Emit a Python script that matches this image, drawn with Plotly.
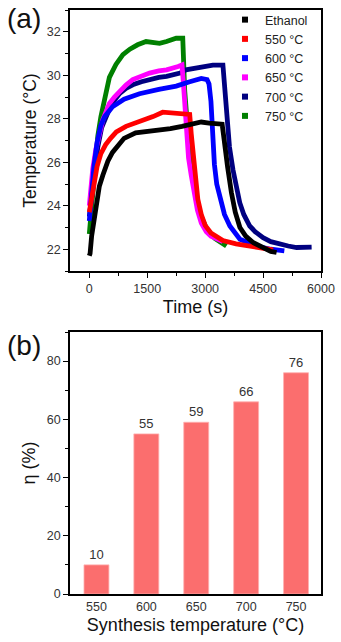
import plotly.graph_objects as go

# ---------------- data: panel (a) ----------------
t_eth = [0, 20, 60, 150, 260, 350, 480, 600, 750, 900, 1200, 1500, 1800, 2100, 2400, 2700, 2900, 3100, 3300, 3440,
         3480, 3530, 3580, 3680, 3780, 3900, 4050, 4250, 4500, 4700, 4850]
T_eth = [21.7, 21.8, 22.6, 23.8, 24.9, 25.4, 26.05, 26.45, 26.8, 27.1, 27.35, 27.4, 27.5, 27.55, 27.65, 27.75, 27.85, 27.8, 27.78, 27.75,
         27.2, 26.4, 25.8, 24.6, 23.7, 23.0, 22.6, 22.3, 22.05, 21.9, 21.85]

t_550 = [0, 50, 120, 200, 300, 420, 550, 700, 950, 1200, 1400, 1650, 1900, 2150, 2400, 2600,
         2640, 2690, 2750, 2810, 2900, 3000, 3150, 3300, 3460, 3800, 4100, 4450, 4760]
T_550 = [23.7, 24.3, 25.1, 25.8, 26.4, 26.8, 27.1, 27.4, 27.65, 27.8, 27.95, 28.1, 28.3, 28.25, 28.25, 28.2,
         27.3, 26.3, 25.2, 24.3, 23.6, 23.1, 22.75, 22.55, 22.4, 22.25, 22.15, 22.05, 21.97]

t_600 = [0, 60, 120, 200, 300, 400, 600, 900, 1300, 1800, 2250, 2600, 2900, 3050,
         3100, 3150, 3190, 3240, 3300, 3380, 3500, 3640, 3900, 4330, 4700, 5050]
T_600 = [23.3, 24.6, 25.8, 26.9, 27.7, 28.1, 28.55, 28.9, 29.15, 29.35, 29.5, 29.7, 29.85, 29.8,
         29.6, 28.8, 27.5, 25.9, 25.0, 24.4, 23.6, 23.07, 22.46, 22.15, 22.0, 21.92]

t_650 = [0, 40, 90, 170, 260, 350, 450, 520, 650, 780, 950, 1125, 1350, 1560, 1800, 2000, 2300, 2400,
         2430, 2470, 2520, 2570, 2640, 2720, 2800, 2900, 3030, 3150, 3300, 3460]
T_650 = [24.0, 24.9, 25.7, 26.6, 27.4, 27.95, 28.4, 28.7, 29.0, 29.25, 29.55, 29.8, 29.95, 30.1, 30.2, 30.25, 30.4, 30.47,
         29.8, 28.6, 27.2, 26.2, 25.4, 24.5, 23.8, 23.2, 22.8, 22.6, 22.45, 22.35]

t_700 = [0, 60, 130, 220, 320, 420, 520, 650, 780, 950, 1125, 1350, 1560, 1800, 2000, 2200, 2350, 2500, 2700, 2850,
         3000, 3200, 3460, 3500, 3560, 3630, 3720, 3800, 3896, 4000, 4155, 4300, 4500, 4700, 4934, 5150, 5368, 5550, 5757]
T_700 = [23.5, 24.5, 25.6, 26.7, 27.6, 28.1, 28.45, 28.85, 29.15, 29.4, 29.56, 29.7, 29.8, 29.9, 29.95, 30.05, 30.1, 30.25, 30.3, 30.37,
         30.4, 30.47, 30.47, 29.5, 28.0, 26.7, 25.66, 24.9, 24.14, 23.6, 23.07, 22.8, 22.53, 22.35, 22.23, 22.15, 22.08, 22.08, 22.1]

t_750 = [0, 40, 90, 150, 220, 300, 400, 520, 690, 870, 1050, 1250, 1470, 1650, 1820, 2000, 2100, 2250, 2420,
         2440, 2470, 2510, 2560, 2620, 2700, 2800, 2900, 3050, 3250, 3400, 3550]
T_750 = [22.7, 23.6, 24.8, 26.1, 27.2, 28.1, 28.9, 29.9, 30.5, 30.95, 31.2, 31.4, 31.55, 31.5, 31.47, 31.55, 31.62, 31.7, 31.7,
         30.5, 29.3, 28.4, 27.0, 25.9, 25.0, 24.1, 23.5, 22.9, 22.5, 22.3, 22.15]

series_names = ["Ethanol", "550 °C", "600 °C", "650 °C", "700 °C", "750 °C"]
series_colors = ["#000000", "#FF0000", "#0000FF", "#FF00FF", "#000080", "#008000"]
series_t = [t_eth, t_550, t_600, t_650, t_700, t_750]
series_T = [T_eth, T_550, T_600, T_650, T_700, T_750]

# ---------------- data: panel (b) ----------------
synth_temps = ["550", "600", "650", "700", "750"]
eta = [10, 55, 59, 66, 76]

FONT = "Arial, Liberation Sans, sans-serif"
W, H = 341, 642

fig = go.Figure()

# curves drawn in reverse order so that Ethanol ends up on top (as in the reference)
for name, col, tx, Ty in reversed(list(zip(series_names, series_colors, series_t, series_T))):
    fig.add_trace(go.Scatter(x=tx, y=Ty, mode="lines", line=dict(color=col, width=4.8),
                             showlegend=False, xaxis="x", yaxis="y", hoverinfo="skip"))
for name, col in zip(series_names, series_colors):
    fig.add_trace(go.Scatter(x=[None], y=[None], mode="markers", name=name,
                             marker=dict(symbol="square", size=6, color=col),
                             xaxis="x", yaxis="y", showlegend=True))

fig.add_trace(go.Bar(x=synth_temps, y=eta, marker=dict(color="#FB6E6E", line=dict(color="#FFB0B0", width=0.8)),
                     width=0.5, text=[str(v) for v in eta], textposition="outside",
                     textfont=dict(size=13, color="#333333", family=FONT), cliponaxis=False,
                     xaxis="x2", yaxis="y2", showlegend=False))

def px_x(p):
    return p / W

def px_y(p):
    return 1 - p / H

axis_common = dict(showline=True, linecolor="black", linewidth=1.5, mirror=True, showgrid=False,
                   zeroline=False, ticks="outside", ticklen=5, tickwidth=1.3, tickcolor="black",
                   automargin=False,
                   tickfont=dict(size=12.5, color="#333333", family=FONT))

fig.update_layout(
    width=W, height=H, margin=dict(l=0, r=0, t=0, b=0, pad=0), autosize=False,
    paper_bgcolor="white", plot_bgcolor="white",
    font=dict(family=FONT, color="#111111"),
    xaxis=dict(domain=[px_x(70), px_x(321)], anchor="y", range=[-500, 6000], tick0=0, dtick=1500,
               minor=dict(ticks="outside", ticklen=3, dtick=750, tick0=0, tickcolor="black", tickwidth=1.2),
               title=dict(text="Time (s)", font=dict(size=18, color="#111111"), standoff=6),
               **axis_common),
    yaxis=dict(domain=[px_y(271), px_y(10)], anchor="x", range=[21, 33], tick0=22, dtick=2,
               minor=dict(ticks="outside", ticklen=3, dtick=1, tick0=21, tickcolor="black", tickwidth=1.2),
               title=dict(text="Temperature (°C)", font=dict(size=17.5, color="#111111"), standoff=6),
               **axis_common),
    xaxis2=dict(domain=[px_x(70), px_x(321)], anchor="y2", range=[-0.53, 4.5], type="category",
                title=dict(text="Synthesis temperature (°C)", font=dict(size=18, color="#111111"), standoff=6),
                **{**axis_common, "ticks": ""}),
    yaxis2=dict(domain=[px_y(594), px_y(332)], anchor="x2", range=[0, 90], tick0=0, dtick=20,
                minor=dict(ticks="outside", ticklen=3, dtick=10, tick0=0, tickcolor="black", tickwidth=1.2),
                title=dict(text="η (%)", font=dict(size=18, color="#111111"), standoff=7),
                **axis_common),
    legend=dict(x=px_x(225), y=px_y(5), xanchor="left", yanchor="top", bgcolor="rgba(0,0,0,0)",
                font=dict(size=12.5, color="#222222", family=FONT), itemwidth=30, tracegroupgap=0),
    annotations=[
        dict(text="(a)", x=px_x(5), y=px_y(19), xref="paper", yref="paper", xanchor="left", yanchor="middle",
             showarrow=False, font=dict(size=28, color="#111111", family=FONT)),
        dict(text="(b)", x=px_x(5), y=px_y(345), xref="paper", yref="paper", xanchor="left", yanchor="middle",
             showarrow=False, font=dict(size=28, color="#111111", family=FONT)),
    ],
)

fig.write_html("out.html")
